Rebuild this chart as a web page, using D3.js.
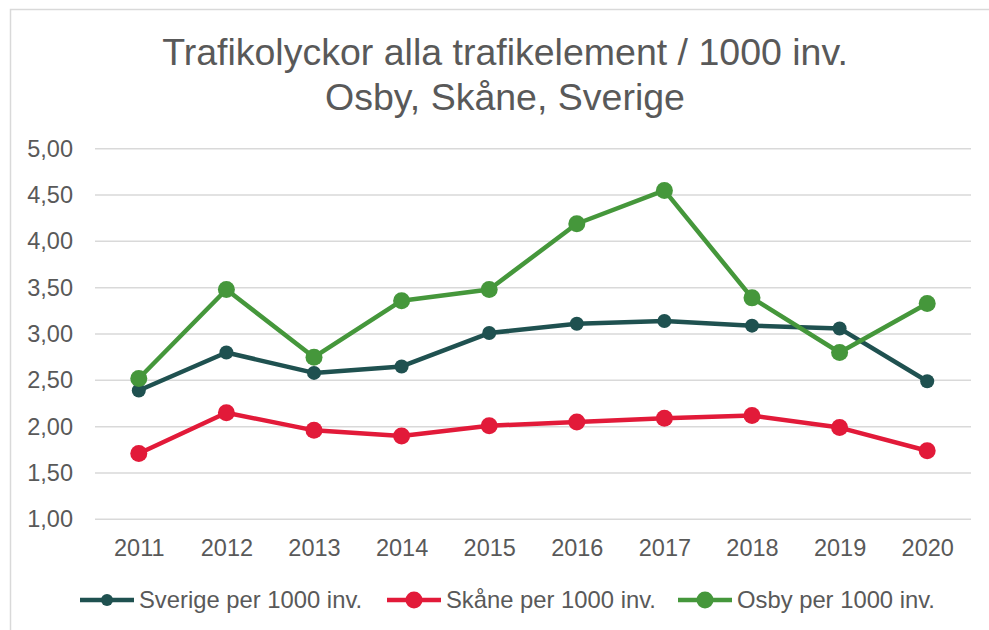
<!DOCTYPE html>
<html>
<head>
<meta charset="utf-8">
<script src="https://cdn.jsdelivr.net/npm/d3@7"></script>
<style>
  body { margin: 0; background: #fff; }
  text { font-family: "Liberation Sans", Arial, sans-serif; fill: #595959; }
</style>
</head>
<body>
<script>
const years = ["2011", "2012", "2013", "2014", "2015", "2016", "2017", "2018", "2019", "2020"]
const sverige = [2.39, 2.80, 2.58, 2.65, 3.01, 3.11, 3.14, 3.09, 3.06, 2.49]
const skane = [1.71, 2.15, 1.96, 1.90, 2.01, 2.05, 2.09, 2.12, 1.99, 1.74]
const osby = [2.52, 3.48, 2.75, 3.36, 3.48, 4.19, 4.55, 3.39, 2.80, 3.33]
const yTicks = [1, 1.5, 2, 2.5, 3, 3.5, 4, 4.5, 5]
const seriesNames = ["Sverige per 1000 inv.", "Skåne per 1000 inv.", "Osby per 1000 inv."]
const titleLines = ["Trafikolyckor alla trafikelement / 1000 inv.", "Osby, Skåne, Sverige"]

const svgWidth = 989
const svgHeight = 630

const margin = { top: 148.7, right: 18, bottom: 110.7, left: 95 }

const chartWidth = svgWidth - margin.left - margin.right
const chartHeight = svgHeight - margin.top - margin.bottom

const series = [
  { name: seriesNames[0], values: sverige, color: "#1f5150", r: 7, legendR: 6 },
  { name: seriesNames[1], values: skane, color: "#e21a39", r: 8.5, legendR: 8.5 },
  { name: seriesNames[2], values: osby, color: "#45973b", r: 8.5, legendR: 8.5 }
]

const svg = d3.select("body").append("svg")
  .attr("width", svgWidth)
  .attr("height", svgHeight)

// chart border (runs off the right and bottom edges)
svg.append("rect")
  .attr("x", 10.5).attr("y", 9.5)
  .attr("width", 1000).attr("height", 700)
  .attr("fill", "none")
  .attr("stroke", "#d9d9d9")
  .attr("stroke-width", 1.5)

const title = svg.append("text")
  .attr("text-anchor", "middle")
  .attr("font-size", "37.5px")
title.selectAll("tspan")
  .data(titleLines)
  .enter()
  .append("tspan")
  .attr("x", 505)
  .attr("y", (d, i) => 65 + i * 45)
  .text(d => d)

const chartG = svg.append("g")
  .attr("transform", `translate(${margin.left}, ${margin.top})`)

const x = d3.scalePoint()
  .domain(years)
  .range([0, chartWidth])
  .padding(0.5)

const y = d3.scaleLinear()
  .domain([1, 5])
  .range([chartHeight, 0])

// grid
chartG.append("g")
  .selectAll("line")
  .data(yTicks)
  .enter()
  .append("line")
  .attr("x1", 0).attr("x2", chartWidth)
  .attr("y1", d => y(d)).attr("y2", d => y(d))
  .attr("stroke", "#d9d9d9")
  .attr("stroke-width", 1.5)

const yAxis = d3.axisLeft(y)
  .tickValues(yTicks)
  .tickSize(0)
  .tickPadding(22)
  .tickFormat(d => d.toFixed(2).replace(".", ","))

chartG.append("g")
  .call(yAxis)
  .call(g => g.select(".domain").remove())
  .selectAll("text")
  .attr("font-size", "23.5px")
  .attr("fill", "#595959")

const xAxis = d3.axisBottom(x)
  .tickSize(0)
  .tickPadding(20)

chartG.append("g")
  .attr("transform", `translate(0, ${chartHeight})`)
  .call(xAxis)
  .call(g => g.select(".domain").remove())
  .selectAll("text")
  .attr("font-size", "23.5px")
  .attr("fill", "#595959")

const line = d3.line()
  .x((d, i) => x(years[i]))
  .y(d => y(d))

const plotArea = chartG.append("g")

series.forEach(s => {
  plotArea.append("path")
    .datum(s.values)
    .attr("d", line)
    .attr("fill", "none")
    .attr("stroke", s.color)
    .attr("stroke-width", 4.5)
    .attr("stroke-linejoin", "round")

  plotArea.append("g")
    .selectAll("circle")
    .data(s.values)
    .enter()
    .append("circle")
    .attr("cx", (d, i) => x(years[i]))
    .attr("cy", d => y(d))
    .attr("r", s.r)
    .attr("fill", s.color)
})

// legend
const legend = svg.append("g")
  .attr("transform", "translate(0, 600)")

const itemX = [80, 387, 678]
series.forEach((s, i) => {
  const item = legend.append("g")
    .attr("transform", `translate(${itemX[i]}, 0)`)
  item.append("line")
    .attr("x1", 0).attr("x2", 54)
    .attr("stroke", s.color)
    .attr("stroke-width", 4.5)
  item.append("circle")
    .attr("cx", 27)
    .attr("r", s.legendR)
    .attr("fill", s.color)
  item.append("text")
    .attr("x", 59)
    .attr("dy", "0.35em")
    .attr("font-size", "23.8px")
    .text(s.name)
})
</script>
</body>
</html>
